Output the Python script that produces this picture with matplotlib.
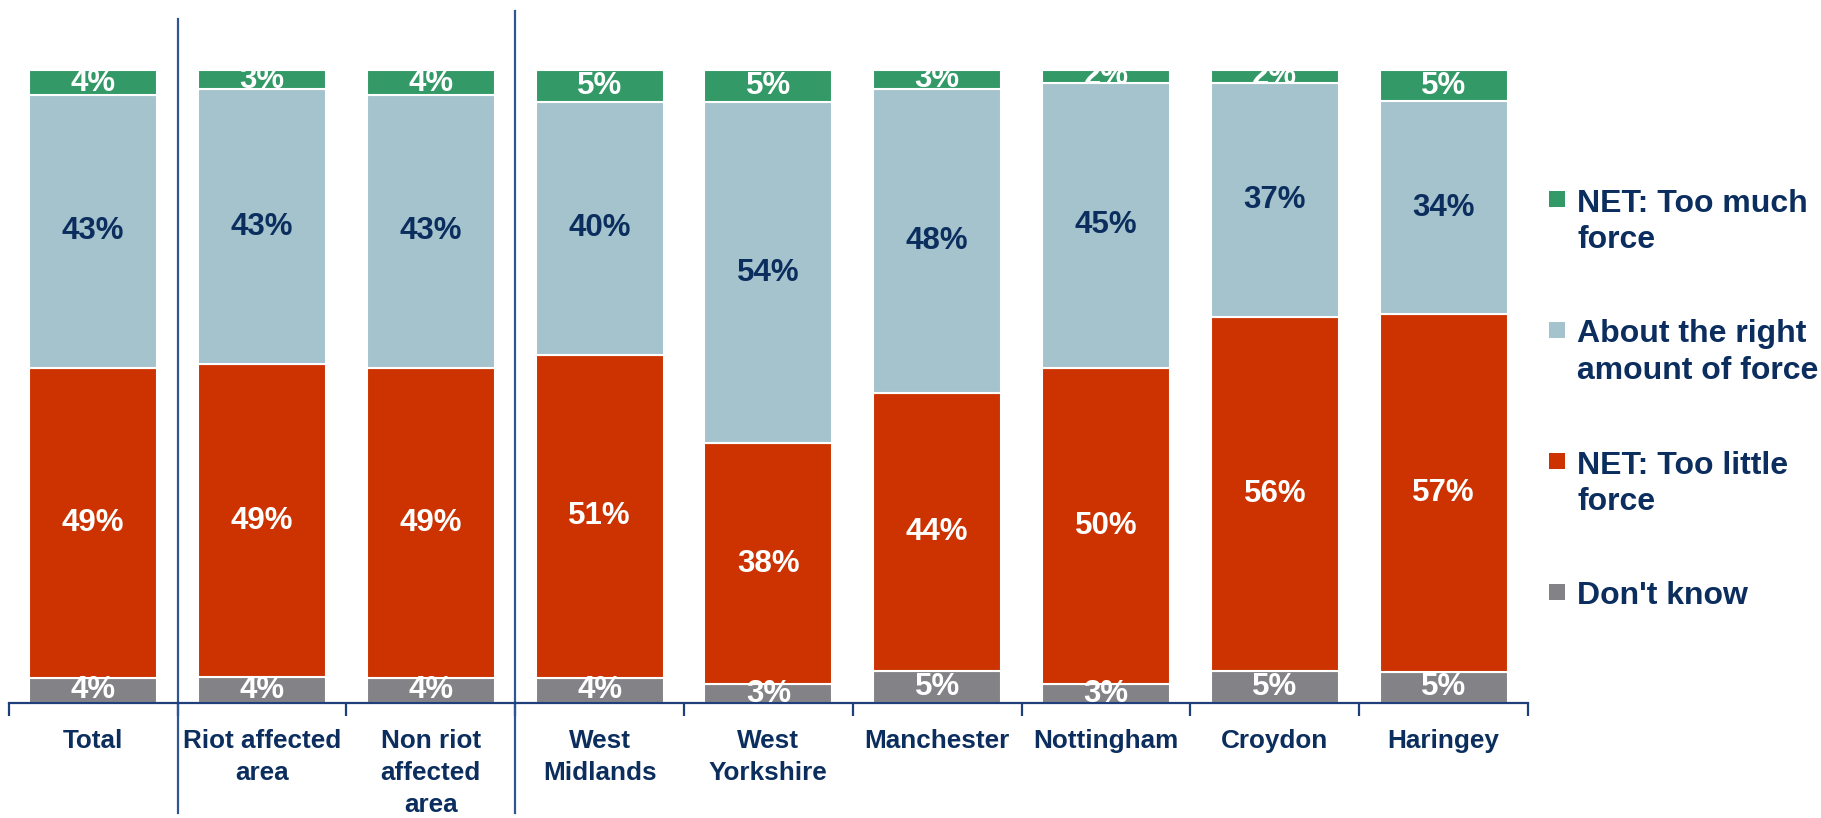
import matplotlib
matplotlib.use("Agg")
import matplotlib.pyplot as plt
from matplotlib.patches import Rectangle
import numpy as np

plt.rcParams['font.family'] = ['Liberation Sans', 'DejaVu Sans']
plt.rcParams['font.weight'] = 'bold'

categories = ["Total", "Riot affected\narea", "Non riot\naffected\narea", "West\nMidlands",
              "West\nYorkshire", "Manchester", "Nottingham", "Croydon", "Haringey"]
dont_know = [4, 4, 4, 4, 3, 5, 3, 5, 5]
too_little = [49, 49, 49, 51, 38, 44, 50, 56, 57]
about_right = [43, 43, 43, 40, 54, 48, 45, 37, 34]
too_much = [4, 3, 4, 5, 5, 3, 2, 2, 5]

series_names = ["Don't know", "NET: Too little\nforce", "About the right\namount of force",
                "NET: Too much\nforce"]
series_vals = [dont_know, too_little, about_right, too_much]
colors = ["#838387", "#CC3300", "#A4C3CC", "#339966"]
label_colors = ["white", "white", "#0B2E5E", "white"]
NAVY = "#0B2E5E"
AXC = "#1F3F7A"

W, H = 1821, 818
fig = plt.figure(figsize=(W / 100, H / 100), dpi=100)
ax_left, ax_right, ax_bot, ax_top = 8.8, 1528, 703, 70
ax = fig.add_axes([ax_left / W, (H - ax_bot) / H, (ax_right - ax_left) / W, (ax_bot - ax_top) / H])

vals = np.array(series_vals, dtype=float)
totals = vals.sum(axis=0)
shares = vals / totals * 100
x = np.arange(len(categories))
bottom = np.zeros(len(categories))
for i in range(len(series_vals)):
    ax.bar(x, shares[i], 0.758, bottom=bottom, color=colors[i], edgecolor="white", linewidth=1.5, zorder=2)
    for j in range(len(categories)):
        cy = bottom[j] + shares[i][j] / 2
        ax.text(x[j], cy, f"{series_vals[i][j]}%", ha="center", va="center", color=label_colors[i],
                fontsize=22.5, fontweight="bold", zorder=3, clip_on=(i == 3))
    bottom += shares[i]

ax.set_xlim(-0.5, len(categories) - 0.5)
ax.set_ylim(0, 100)
for s in ["top", "right", "left"]:
    ax.spines[s].set_visible(False)
ax.spines["bottom"].set_color(AXC)
ax.spines["bottom"].set_linewidth(1.6)
ax.set_yticks([])
ax.set_xticks(x)
ax.set_xticklabels(categories, fontsize=18.8, fontweight="bold", color=NAVY, linespacing=1.42)
ax.tick_params(axis="x", which="major", length=0, pad=19)
ax.set_xticks(np.arange(-0.5, len(categories)), minor=True)
ax.tick_params(axis="x", which="minor", length=9.5, width=1.6, color=AXC, direction="out")

# group separators
for xb, ytop in [(0.5, 19), (2.5, 11)]:
    ax.axvline(xb, ymin=(ax_bot - 813) / (ax_bot - ax_top), ymax=(ax_bot - ytop) / (ax_bot - ax_top),
               color="#2F5597", linewidth=1.6, clip_on=False)

# legend
leg_y = [199, 330, 461, 592]
for k, name in enumerate(series_names[::-1]):
    c = colors[::-1][k]
    cy = leg_y[k]
    fig.patches.append(Rectangle((1549 / W, (H - cy - 8) / H), 16 / W, 16 / H, transform=fig.transFigure,
                                 facecolor=c, edgecolor="none"))
    fig.text(1577 / W, (H - cy + 10.5) / H, name, ha="left", va="top", fontsize=23, fontweight="bold",
             color=NAVY, linespacing=1.3)

fig.savefig("out.png", dpi=100)
